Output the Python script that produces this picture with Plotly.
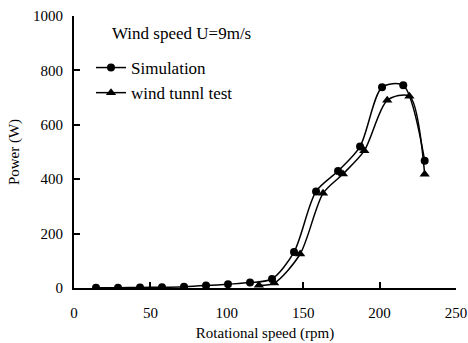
import plotly.graph_objects as go

sim_speed = [14.4, 28.8, 43.2, 57.6, 72.0, 86.4, 100.8, 115.2, 129.6, 144.0, 158.4, 172.8, 187.2, 201.6, 215.5, 229.5]
sim_power = [1, 1, 2, 3, 5, 9, 14, 20, 33, 132, 355, 430, 520, 738, 745, 468]

test_speed = [121.0, 131.0, 148.0, 163.0, 176.0, 190.0, 205.0, 219.5, 229.5]
test_power = [10, 18, 125, 348, 419, 505, 690, 705, 418]

legend_title = "Wind speed U=9m/s"

FONT = "Liberation Serif, Times New Roman, serif"

fig = go.Figure()
fig.add_trace(go.Scatter(
    x=sim_speed, y=sim_power, name="Simulation", mode="lines+markers",
    line=dict(color="black", width=1.5, shape="spline", smoothing=0.8),
    marker=dict(symbol="circle", size=8, color="black"),
))
fig.add_trace(go.Scatter(
    x=test_speed, y=test_power, name="wind tunnl test", mode="lines+markers",
    line=dict(color="black", width=1.5, shape="spline", smoothing=0.8),
    marker=dict(symbol="triangle-up", size=9, color="black"),
))

fig.add_annotation(
    text=legend_title, xref="paper", yref="paper",
    x=(110 - 74) / 382, y=(288 - 33) / 272, xanchor="left", yanchor="middle",
    showarrow=False, font=dict(size=17, family=FONT, color="black"),
)

fig.update_layout(
    width=468, height=343,
    margin=dict(l=74, r=12, t=16, b=55),
    paper_bgcolor="white", plot_bgcolor="white",
    font=dict(family=FONT, size=15, color="black"),
    showlegend=True,
    legend=dict(
        x=(91 - 74) / 382, y=(288 - 50) / 272, xanchor="left", yanchor="top",
        bgcolor="rgba(0,0,0,0)", borderwidth=0,
        font=dict(size=17, family=FONT), itemwidth=30, tracegroupgap=0,
    ),
    xaxis=dict(
        range=[0, 250], dtick=50, tick0=0, automargin=False,
        showline=True, linecolor="black", linewidth=2,
        ticks="inside", ticklen=6, tickwidth=1.5, tickcolor="black",
        showgrid=False, zeroline=False, ticklabelstandoff=10,
        title=dict(text="Rotational speed (rpm)", font=dict(size=15, family=FONT), standoff=7),
        tickfont=dict(size=15, family=FONT),
    ),
    yaxis=dict(
        range=[0, 1000], dtick=200, tick0=0, automargin=False,
        showline=True, linecolor="black", linewidth=2,
        ticks="inside", ticklen=6, tickwidth=1.5, tickcolor="black",
        showgrid=False, zeroline=False, ticklabelstandoff=6,
        title=dict(text="Power (W)", font=dict(size=15, family=FONT), standoff=10),
        tickfont=dict(size=15, family=FONT),
    ),
)

fig.write_html(
    "out.html",
    config={"displayModeBar": False},
    post_script="document.body.style.margin='0';document.body.style.overflow='hidden';",
)
